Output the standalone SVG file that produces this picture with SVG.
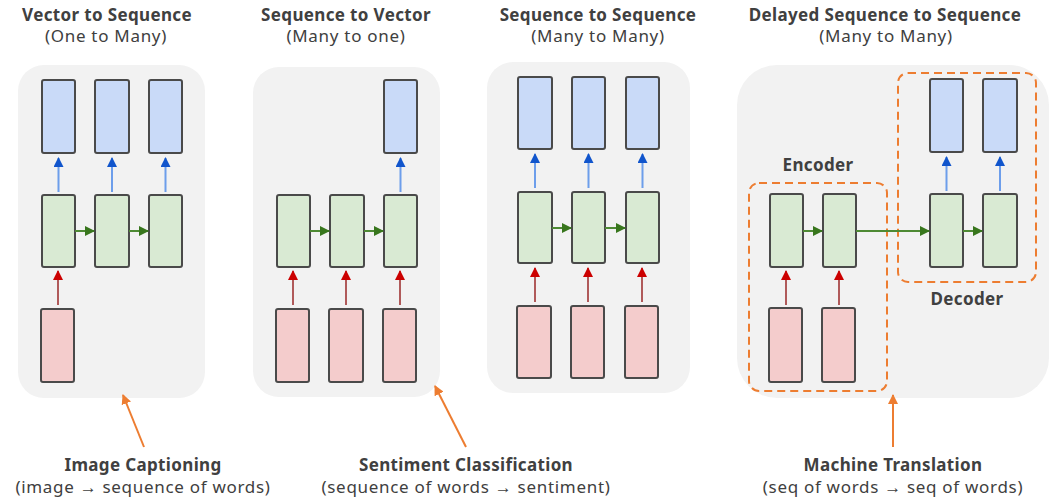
<svg xmlns="http://www.w3.org/2000/svg" width="1056" height="503" viewBox="0 0 1056 503">
<style>
text{font-family:"Noto Sans","Liberation Sans",sans-serif;fill:#404040;text-anchor:middle}
.t{font-size:17px;font-weight:bold;letter-spacing:0.35px}
.s{font-size:17px;letter-spacing:0.7px}
.bg{fill:#f2f2f2}
.o{fill:#c9daf8;stroke:#4a4a4a;stroke-width:2}
.h{fill:#d9ead3;stroke:#4a4a4a;stroke-width:2}
.i{fill:#f4cccc;stroke:#4a4a4a;stroke-width:2}
.ab{stroke:#6d9eeb;stroke-width:2;marker-end:url(#mb)}
.ar{stroke:#b05a5a;stroke-width:2;marker-end:url(#mr)}
.ag{stroke:#4e8a34;stroke-width:2;marker-end:url(#mg)}
.ao{stroke:#ed7d31;stroke-width:2;marker-end:url(#mo)}
.d{fill:none;stroke:#ed7d31;stroke-width:2;stroke-dasharray:8 5}
</style>
<defs>
<marker id="mb" viewBox="0 0 10 10" refX="9" refY="5" markerWidth="5.5" markerHeight="5" orient="auto" markerUnits="strokeWidth"><path d="M0,0 L10,5 L0,10 z" fill="#1155cc"/></marker>
<marker id="mr" viewBox="0 0 10 10" refX="9" refY="5" markerWidth="5.5" markerHeight="5" orient="auto" markerUnits="strokeWidth"><path d="M0,0 L10,5 L0,10 z" fill="#cc0000"/></marker>
<marker id="mg" viewBox="0 0 10 10" refX="9" refY="5" markerWidth="6.5" markerHeight="5" orient="auto" markerUnits="strokeWidth"><path d="M0,0 L10,5 L0,10 z" fill="#38761d"/></marker>
<marker id="mo" viewBox="0 0 10 10" refX="9" refY="5" markerWidth="5" markerHeight="5" orient="auto" markerUnits="strokeWidth"><path d="M0,0 L10,5 L0,10 z" fill="#ed7d31"/></marker>
</defs>

<g id="panel1">
<rect class="bg" x="18" y="65" width="187" height="333" rx="26"/>
<text class="t" x="107" y="21">Vector to Sequence</text>
<text class="s" x="106" y="42">(One to Many)</text>
</g>
<g id="p1-out1"><rect class="o" x="42" y="80" width="33" height="73" rx="2"/></g>
<g id="p1-out2"><rect class="o" x="95" y="80" width="34" height="73" rx="2"/></g>
<g id="p1-out3"><rect class="o" x="149" y="80" width="33" height="73" rx="2"/></g>
<g id="p1-h1"><rect class="h" x="42" y="195" width="33" height="72" rx="2"/></g>
<g id="p1-h2"><rect class="h" x="95" y="195" width="34" height="72" rx="2"/></g>
<g id="p1-h3"><rect class="h" x="149" y="195" width="33" height="72" rx="2"/></g>
<g id="p1-in1"><rect class="i" x="41" y="309" width="33" height="73" rx="2"/></g>

<g id="panel2">
<rect class="bg" x="253" y="67" width="187" height="330" rx="26"/>
<text class="t" x="346" y="21">Sequence to Vector</text>
<text class="s" x="346" y="42">(Many to one)</text>
</g>
<g id="p2-out1"><rect class="o" x="384" y="80" width="33" height="73" rx="2"/></g>
<g id="p2-h1"><rect class="h" x="277" y="195" width="33" height="72" rx="2"/></g>
<g id="p2-h2"><rect class="h" x="330" y="195" width="34" height="72" rx="2"/></g>
<g id="p2-h3"><rect class="h" x="384" y="195" width="33" height="72" rx="2"/></g>
<g id="p2-in1"><rect class="i" x="276" y="309" width="33" height="73" rx="2"/></g>
<g id="p2-in2"><rect class="i" x="329" y="309" width="34" height="73" rx="2"/></g>
<g id="p2-in3"><rect class="i" x="383" y="309" width="33" height="73" rx="2"/></g>

<g id="panel3">
<rect class="bg" x="487" y="62" width="203" height="331" rx="26"/>
<text class="t" x="598" y="21">Sequence to Sequence</text>
<text class="s" x="598" y="42">(Many to Many)</text>
</g>
<g id="p3-out1"><rect class="o" x="518" y="77" width="34" height="72" rx="2"/></g>
<g id="p3-out2"><rect class="o" x="572" y="77" width="33" height="72" rx="2"/></g>
<g id="p3-out3"><rect class="o" x="626" y="77" width="33" height="72" rx="2"/></g>
<g id="p3-h1"><rect class="h" x="518" y="192" width="34" height="71" rx="2"/></g>
<g id="p3-h2"><rect class="h" x="572" y="192" width="33" height="71" rx="2"/></g>
<g id="p3-h3"><rect class="h" x="626" y="192" width="33" height="71" rx="2"/></g>
<g id="p3-in1"><rect class="i" x="517" y="306" width="34" height="72" rx="2"/></g>
<g id="p3-in2"><rect class="i" x="571" y="306" width="33" height="72" rx="2"/></g>
<g id="p3-in3"><rect class="i" x="625" y="306" width="33" height="72" rx="2"/></g>

<g id="panel4">
<rect class="bg" x="737" y="65" width="312" height="333" rx="40"/>
<text class="t" x="885" y="21">Delayed Sequence to Sequence</text>
<text class="s" x="886" y="42">(Many to Many)</text>
</g>
<g id="encoder">
<rect class="d" x="749" y="183" width="138" height="208" rx="10"/>
<text class="t" x="818" y="171">Encoder</text>
</g>
<g id="decoder">
<rect class="d" x="898" y="73" width="138" height="209" rx="10"/>
<text class="t" x="967" y="305">Decoder</text>
</g>
<g id="p4-out1"><rect class="o" x="930" y="79" width="33" height="73" rx="2"/></g>
<g id="p4-out2"><rect class="o" x="983" y="79" width="34" height="73" rx="2"/></g>
<g id="p4-e1"><rect class="h" x="770" y="194" width="33" height="73" rx="2"/></g>
<g id="p4-e2"><rect class="h" x="823" y="194" width="33" height="73" rx="2"/></g>
<g id="p4-d1"><rect class="h" x="930" y="194" width="33" height="73" rx="2"/></g>
<g id="p4-d2"><rect class="h" x="983" y="194" width="34" height="73" rx="2"/></g>
<g id="p4-in1"><rect class="i" x="769" y="308" width="33" height="74" rx="2"/></g>
<g id="p4-in2"><rect class="i" x="822" y="308" width="33" height="74" rx="2"/></g>

<g id="labels">
<text class="t" x="143" y="471">Image Captioning</text>
<text class="s" x="143" y="493">(image → sequence of words)</text>
<text class="t" x="466" y="471">Sentiment Classification</text>
<text class="s" x="466" y="493">(sequence of words → sentiment)</text>
<text class="t" x="893" y="471">Machine Translation</text>
<text class="s" x="893" y="493">(seq of words → seq of words)</text>
</g>

<g id="connectors">
<line class="ab" x1="58.5" y1="192" x2="58.5" y2="158"/>
<line class="ab" x1="112" y1="192" x2="112" y2="158"/>
<line class="ab" x1="165.5" y1="192" x2="165.5" y2="158"/>
<line class="ag" x1="75" y1="231" x2="94" y2="231"/>
<line class="ag" x1="129" y1="231" x2="148" y2="231"/>
<line class="ar" x1="58" y1="305" x2="58" y2="271"/>
<line class="ab" x1="400.5" y1="192" x2="400.5" y2="158"/>
<line class="ag" x1="310" y1="231" x2="329" y2="231"/>
<line class="ag" x1="364" y1="231" x2="383" y2="231"/>
<line class="ar" x1="293" y1="305" x2="293" y2="271"/>
<line class="ar" x1="346" y1="305" x2="346" y2="271"/>
<line class="ar" x1="400" y1="305" x2="400" y2="271"/>
<line class="ab" x1="535" y1="188" x2="535" y2="154"/>
<line class="ab" x1="588.5" y1="188" x2="588.5" y2="154"/>
<line class="ab" x1="642.5" y1="188" x2="642.5" y2="154"/>
<line class="ag" x1="552" y1="228" x2="571" y2="228"/>
<line class="ag" x1="605" y1="228" x2="625" y2="228"/>
<line class="ar" x1="535" y1="302" x2="535" y2="268"/>
<line class="ar" x1="588" y1="302" x2="588" y2="268"/>
<line class="ar" x1="642" y1="302" x2="642" y2="268"/>
<line class="ab" x1="946.5" y1="191" x2="946.5" y2="157"/>
<line class="ab" x1="1000" y1="191" x2="1000" y2="157"/>
<line class="ag" x1="803" y1="231" x2="822" y2="231"/>
<line class="ag" x1="856" y1="231" x2="929" y2="231"/>
<line class="ag" x1="963" y1="231" x2="982" y2="231"/>
<line class="ar" x1="786" y1="305" x2="786" y2="271"/>
<line class="ar" x1="839" y1="305" x2="839" y2="271"/>
<line class="ao" x1="144" y1="447" x2="123" y2="395"/>
<line class="ao" x1="466" y1="447" x2="435" y2="386"/>
<line class="ao" x1="893" y1="447" x2="893" y2="395"/>
</g>
</svg>
